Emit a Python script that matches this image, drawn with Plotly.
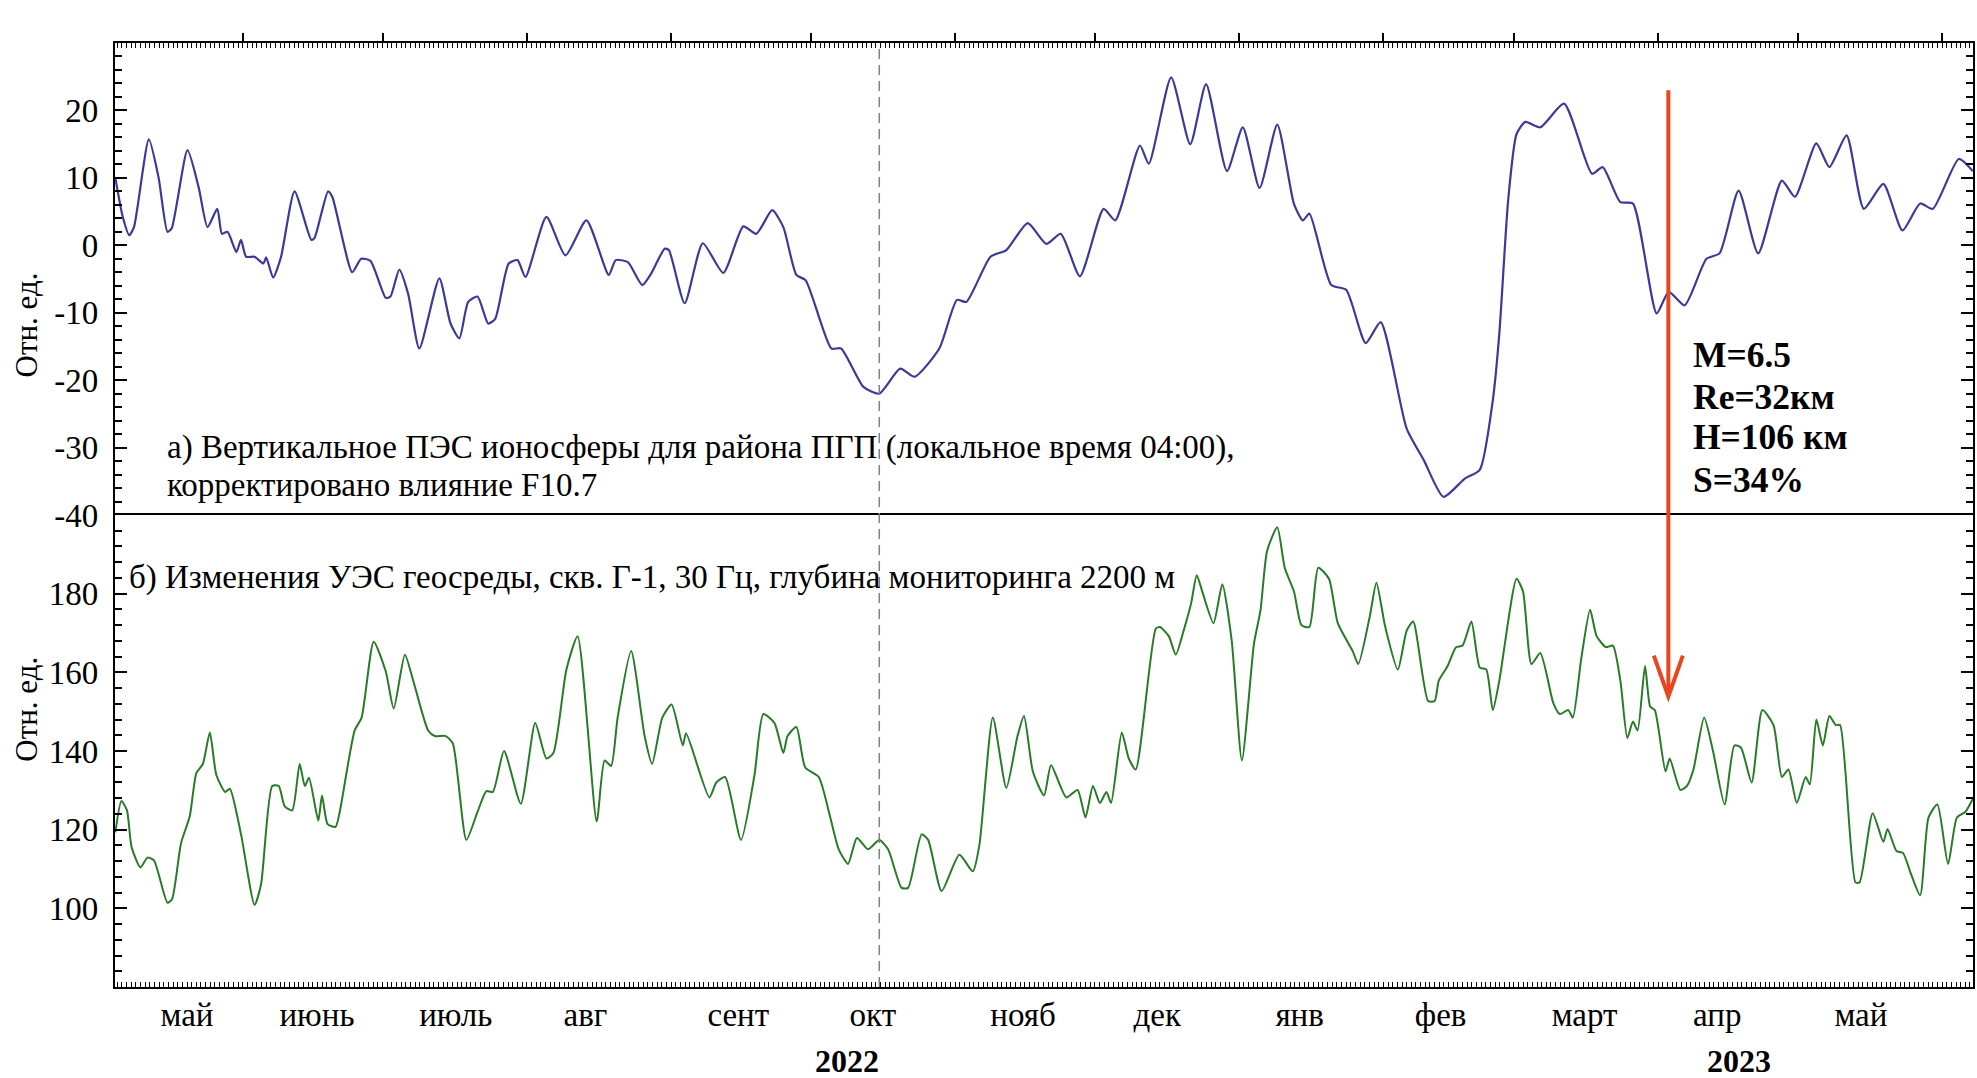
import pandas as pd
import plotly.graph_objects as go

# Days are counted from this reference date
BASE = pd.Timestamp("2022-06-01")

# a) vertical TEC of the ionosphere (relative units)
tec_days = [
    -27.4, -25.8, -24.4, -23.4, -20.2, -18.1, -16.2, -15.3, -11.9, -9.5,
    -7.6, -5.5, -4.5, -3.3, -1.4, -0.4, 0.7, 2.5, 4.4, 5.0,
    6.5, 8.2, 11.1, 14.7, 15.4, 18.3, 19.2, 23.5, 25.4, 27.4,
    30.7, 31.7, 33.6, 35.5, 37.9, 42.2, 44.6, 46.5, 48.4, 50.4,
    52.7, 54.2, 57.1, 59.0, 60.7, 65.2, 69.3, 73.8, 78.6, 80.1,
    82.7, 85.8, 87.7, 90.6, 91.5, 94.9, 98.8, 103.2, 107.5, 110.3,
    113.7, 116.1, 118.9, 120.9, 126.4, 128.5, 133.3, 136.7, 141.2, 144.3,
    149.6, 153.4, 155.4, 160.6, 164.0, 168.6, 172.6, 175.7, 179.8, 184.9,
    187.4, 192.7, 194.6, 199.4, 203.5, 206.9, 211.4, 214.8, 218.4, 222.2,
    225.8, 227.7, 229.1, 233.8, 237.0, 241.2, 244.4, 250.0, 253.7, 257.9,
    262.5, 265.7, 268.5, 269.9, 271.8, 273.6, 275.5, 278.7, 283.8, 289.8,
    292.1, 295.9, 298.6, 303.7, 306.3, 309.7, 314.4, 317.2, 321.3, 325.5,
    330.6, 333.4, 338.0, 340.8, 344.5, 348.2, 352.4, 356.5, 360.3, 363.0,
    368.6, 371.6,
]
tec_values = [
    10.0, 4.2, 1.5, 2.7, 15.7, 10.0, 2.0, 2.5, 14.1, 8.6,
    2.7, 5.4, 1.7, 2.0, -1.0, 0.8, -1.7, -1.7, -2.7, -1.8,
    -4.8, -1.7, 8.0, 0.8, 1.1, 8.0, 7.2, -4.0, -2.0, -2.3,
    -7.8, -7.6, -3.6, -7.2, -15.3, -4.9, -11.6, -13.8, -8.4, -7.6,
    -11.6, -10.9, -2.7, -2.2, -4.7, 4.2, -1.5, 3.7, -4.4, -2.2,
    -2.5, -5.9, -4.2, -0.5, -0.7, -8.6, 0.3, -4.1, 2.8, 1.7,
    5.2, 2.7, -4.4, -5.2, -15.3, -15.3, -21.0, -22.0, -18.3, -19.5,
    -15.3, -8.1, -8.4, -1.7, -0.7, 3.3, 0.2, 1.7, -4.6, 5.4,
    3.7, 14.8, 12.1, 24.9, 15.0, 23.9, 11.0, 17.5, 8.5, 17.9,
    6.1, 3.7, 4.7, -5.9, -6.6, -14.5, -11.4, -27.2, -31.9, -37.3,
    -34.6, -33.3, -23.0, -13.1, 6.7, 16.5, 18.3, 17.5, 21.0, 10.6,
    11.6, 6.4, 6.2, -10.1, -6.9, -8.9, -2.0, -1.2, 8.1, -1.2,
    9.6, 7.2, 15.1, 11.6, 16.3, 5.4, 9.1, 2.2, 6.2, 5.4,
    12.8, 11.0,
]

# b) geoelectric resistivity changes, well G-1, 30 Hz (relative units)
res_days = [
    -27.4, -26.1, -24.9, -23.9, -22.0, -20.5, -19.1, -16.2, -15.2, -13.3,
    -11.4, -10.0, -8.6, -7.1, -5.7, -3.8, -2.8, -0.4, 2.5, 3.9,
    6.3, 7.7, 9.0, 10.6, 12.2, 13.3, 14.2, 16.2, 17.0, 18.2,
    19.9, 20.8, 24.0, 25.5, 28.1, 30.7, 32.4, 34.8, 36.7, 39.8,
    41.2, 43.6, 45.1, 48.0, 50.4, 52.3, 53.7, 56.1, 59.7, 62.8,
    65.2, 66.7, 69.5, 71.9, 76.0, 77.7, 79.1, 80.5, 83.4, 86.3,
    87.9, 90.1, 92.1, 94.5, 95.2, 100.2, 101.7, 103.6, 107.0, 109.9,
    111.8, 114.2, 116.1, 117.0, 118.9, 120.8, 123.7, 126.1, 128.0, 130.0,
    131.9, 134.3, 136.7, 138.6, 141.5, 142.9, 145.8, 147.2, 150.1, 153.9,
    156.8, 158.2, 161.1, 164.0, 166.4, 167.8, 169.7, 172.1, 173.6, 176.9,
    179.3, 181.0, 182.6, 184.1, 185.5, 186.5, 188.8, 190.3, 191.8, 196.1,
    197.0, 198.9, 200.4, 202.3, 203.7, 204.9, 206.1, 208.5, 210.4, 212.4,
    214.6, 217.2, 218.6, 220.0, 222.2, 223.8, 225.8, 227.4, 229.1, 231.0,
    233.3, 235.2, 238.4, 239.6, 242.1, 243.5, 245.4, 248.1, 250.0, 251.4,
    254.6, 256.0, 256.9, 258.8, 260.6, 262.0, 263.9, 265.7, 267.1, 268.5,
    269.9, 273.6, 275.0, 276.8, 278.7, 281.5, 282.9, 284.7, 285.7, 287.5,
    289.4, 290.8, 292.8, 294.3, 295.9, 297.4, 298.6, 299.6, 301.2, 302.3,
    303.3, 305.6, 306.5, 308.8, 310.2, 311.6, 313.9, 315.8, 318.3, 320.4,
    321.8, 324.1, 326.4, 328.8, 330.6, 332.0, 333.8, 335.7, 336.6, 338.0,
    339.4, 340.8, 342.2, 343.1, 346.4, 347.3, 350.1, 352.4, 353.3, 355.2,
    356.6, 358.4, 360.3, 362.1, 364.0, 366.3, 368.2, 370.0, 371.6,
]
res_values = [
    119.3, 127.3, 124.9, 115.5, 110.4, 112.9, 112.2, 101.4, 102.4, 116.5,
    123.5, 134.4, 136.7, 144.7, 133.9, 129.6, 130.4, 118.8, 100.9, 106.1,
    131.1, 131.1, 125.9, 124.9, 136.7, 131.1, 133.2, 122.3, 128.7, 121.4,
    120.7, 124.5, 145.2, 148.5, 167.8, 160.2, 150.8, 164.5, 157.4, 145.2,
    143.8, 143.8, 141.9, 117.4, 124.5, 129.8, 129.6, 140.0, 126.6, 147.1,
    138.1, 139.5, 160.7, 169.2, 122.1, 137.6, 136.2, 148.5, 165.4, 143.8,
    136.7, 148.5, 151.8, 141.4, 144.5, 128.2, 132.0, 133.4, 117.4, 133.9,
    149.4, 147.1, 139.5, 143.8, 146.1, 135.8, 133.4, 123.5, 115.0, 111.3,
    117.9, 115.0, 117.4, 115.0, 105.2, 105.2, 118.8, 117.4, 104.4, 113.6,
    109.4, 116.0, 148.5, 130.6, 143.8, 148.9, 134.8, 128.7, 136.4, 128.2,
    130.1, 123.1, 131.1, 126.8, 129.6, 126.8, 144.7, 138.1, 135.3, 171.1,
    171.5, 169.2, 164.5, 171.5, 177.6, 184.7, 180.5, 172.5, 182.4, 168.2,
    137.6, 167.3, 175.8, 190.8, 196.9, 186.6, 180.5, 172.0, 171.5, 186.6,
    183.8, 172.5, 165.4, 162.1, 174.4, 182.8, 171.5, 160.7, 170.6, 172.9,
    152.7, 152.7, 157.9, 161.6, 166.4, 166.8, 172.9, 161.2, 160.7, 150.4,
    157.9, 183.8, 180.5, 162.1, 164.9, 152.2, 149.4, 150.4, 148.5, 163.5,
    175.9, 169.2, 166.4, 166.8, 157.9, 143.3, 147.5, 145.2, 161.6, 151.3,
    150.4, 134.8, 138.1, 130.1, 131.1, 135.3, 148.5, 140.0, 126.4, 141.4,
    140.9, 132.0, 150.4, 146.6, 133.4, 135.3, 126.8, 133.4, 131.5, 148.0,
    141.4, 148.9, 146.6, 146.6, 106.6, 106.6, 124.2, 116.9, 120.2, 114.6,
    114.1, 108.5, 103.3, 123.1, 126.4, 111.3, 123.1, 124.5, 127.8,
]

# Y tick values and their labels (plain hyphen for negatives)
tec_ticks = [-40, -30, -20, -10, 0, 10, 20]
tec_tick_text = ["-40", "-30", "-20", "-10", "0", "10", "20"]
res_ticks = [100, 120, 140, 160, 180]
res_tick_text = ["100", "120", "140", "160", "180"]

# Month labels on the time axis and where they sit
month_names = ["май", "июнь", "июль", "авг", "сент", "окт", "нояб",
               "дек", "янв", "фев", "март", "апр", "май"]
month_label_dates = ["2022-05-20", "2022-06-16 22:00", "2022-07-16 17:00",
                     "2022-08-13 14:00", "2022-09-15 10:00", "2022-10-14 08:00",
                     "2022-11-15 14:00", "2022-12-14 10:00", "2023-01-14",
                     "2023-02-13 07:00", "2023-03-16 05:00", "2023-04-13 17:00",
                     "2023-05-14 14:00"]
year_labels = ["2022", "2023"]
year_label_dates = ["2022-10-08 19:00", "2023-04-18 07:00"]

# Event markers
MARK_DATE = "2022-10-15 17:00"          # dashed reference line
QUAKE_DATE = "2023-04-03 05:00"         # earthquake
quake_params = ["M=6.5", "Re=32км", "H=106 км", "S=34%"]

X_RANGE = ["2022-05-04 12:40", "2023-06-07 15:40"]
SERIF = "Liberation Serif"
RED = "#e8461e"

tec_dates = [BASE + pd.Timedelta(days=d) for d in tec_days]
res_dates = [BASE + pd.Timedelta(days=d) for d in res_days]

fig = go.Figure()
fig.add_trace(go.Scatter(
    x=tec_dates, y=tec_values, mode="lines", xaxis="x", yaxis="y",
    line=dict(color="#3b3a98", width=2.2, shape="spline", smoothing=0.6),
    showlegend=False, hoverinfo="skip"))
fig.add_trace(go.Scatter(
    x=res_dates, y=res_values, mode="lines", xaxis="x2", yaxis="y2",
    line=dict(color="#297a29", width=2, shape="spline", smoothing=0.6),
    showlegend=False, hoverinfo="skip"))

DAY_MS = 86400000
base_x = dict(type="date", range=X_RANGE, showgrid=False, zeroline=False,
              fixedrange=True)
day_minor = dict(tickmode="linear", tick0="2022-05-01", dtick=DAY_MS,
                 ticks="inside", ticklen=5, tickwidth=1, tickcolor="black")
month_ticks = dict(tickmode="linear", tick0="2022-05-01", dtick="M1",
                   tickwidth=1.5, tickcolor="black", showticklabels=False)
tick_font = dict(family=SERIF, size=33, color="black")

fig.update_layout(
    width=1977, height=1078,
    margin=dict(l=115, r=2, t=43, b=91),
    paper_bgcolor="white", plot_bgcolor="white",
    font=dict(family=SERIF, size=33, color="black"),
    showlegend=False,
    # upper panel time axis (top frame)
    xaxis=dict(**base_x, **month_ticks, anchor="y", side="top",
               showline=True, linecolor="black", linewidth=2.2,
               ticks="outside", ticklen=8, minor=day_minor),
    xaxis5=dict(**base_x, **month_ticks, anchor="y", overlaying="x",
                side="top", ticks="inside", ticklen=12, showline=False),
    # lower panel time axis with month names
    xaxis2=dict(**base_x, anchor="y2", showline=True, linecolor="black",
                linewidth=2.2, mirror=True, tickmode="array",
                tickvals=month_label_dates, ticktext=month_names, ticks="",
                ticklabelstandoff=-3, tickfont=tick_font,
                minor=day_minor),
    xaxis3=dict(**base_x, **month_ticks, anchor="y2", overlaying="x2",
                ticks="outside", ticklen=8, showline=False),
    xaxis4=dict(**base_x, **month_ticks, anchor="y2", overlaying="x2",
                ticks="inside", ticklen=12, showline=False),
    yaxis=dict(domain=[0.5, 1], range=[-40, 30], anchor="x",
               tickmode="array", tickvals=tec_ticks, ticktext=tec_tick_text,
               tickfont=tick_font,
               ticks="inside", ticklen=12, tickwidth=1.5, tickcolor="black",
               showline=True, linecolor="black", linewidth=2.2, mirror="ticks",
               showgrid=False, zeroline=False, fixedrange=True,
               ticklabelstandoff=8,
               minor=dict(tickmode="linear", tick0=0, dtick=2,
                          ticks="inside", ticklen=7, tickwidth=1.5,
                          tickcolor="black")),
    yaxis2=dict(domain=[0, 0.5], range=[80, 200], anchor="x2",
                tickmode="array", tickvals=res_ticks, ticktext=res_tick_text,
                tickfont=tick_font,
                ticks="inside", ticklen=12, tickwidth=1.5, tickcolor="black",
                showline=True, linecolor="black", linewidth=2.2, mirror="ticks",
                showgrid=False, zeroline=False, fixedrange=True,
                ticklabelstandoff=8,
                minor=dict(tickmode="linear", tick0=80, dtick=4,
                           ticks="inside", ticklen=7, tickwidth=1.5,
                           tickcolor="black")),
)

# Dashed reference line through both panels
fig.add_shape(type="line", xref="x2", yref="paper", x0=MARK_DATE, x1=MARK_DATE,
              y0=0, y1=1, line=dict(color="#7f7f7f", width=1.5, dash="10px,6px"))

# Earthquake arrow: shaft plus open head
fig.add_shape(type="line", xref="x2", yref="paper", x0=QUAKE_DATE, x1=QUAKE_DATE,
              y0=0.9499, y1=0.310, line=dict(color=RED, width=4))
fig.add_shape(type="path", xref="x2", yref="paper", xsizemode="pixel",
              xanchor=QUAKE_DATE, path="M -14.5,0.351 L 0,0.3077 L 14.5,0.351",
              line=dict(color=RED, width=4))

annotations = []
# Panel captions
annotations.append(dict(
    text="а) Вертикальное ПЭС ионосферы для района ПГП (локальное время 04:00),",
    xref="paper", yref="paper", x=0.0269, y=0.5718, xanchor="left",
    yanchor="middle", showarrow=False, font=dict(family=SERIF, size=33)))
annotations.append(dict(
    text="корректировано влияние F10.7",
    xref="paper", yref="paper", x=0.0269, y=0.5316, xanchor="left",
    yanchor="middle", showarrow=False, font=dict(family=SERIF, size=33)))
annotations.append(dict(
    text="б) Изменения УЭС геосреды, скв. Г-1, 30 Гц, глубина мониторинга 2200 м",
    xref="paper", yref="paper", x=0.00645, y=0.4342, xanchor="left",
    yanchor="middle", showarrow=False, font=dict(family=SERIF, size=33)))

# Earthquake parameters next to the arrow
for line_text, ypos in zip(quake_params, [0.6693, 0.6248, 0.5824, 0.5369]):
    annotations.append(dict(
        text=f"<b>{line_text}</b>", xref="x2", yref="paper", x=QUAKE_DATE,
        xshift=23, y=ypos, xanchor="left", yanchor="middle", showarrow=False,
        font=dict(family=SERIF, size=35.5)))

# Y axis titles
for ypos in [0.701, 0.294]:
    annotations.append(dict(
        text="Отн. ед.", xref="paper", yref="paper", x=-0.0478, y=ypos,
        xanchor="center", yanchor="middle", textangle=-90, showarrow=False,
        font=dict(family=SERIF, size=31)))

# Year labels under the month names
for label, date in zip(year_labels, year_label_dates):
    annotations.append(dict(
        text=f"<b>{label}</b>", xref="x2", yref="paper", x=date, y=-0.0785,
        xanchor="center", yanchor="middle", showarrow=False,
        font=dict(family=SERIF, size=32)))

fig.update_layout(annotations=annotations)

fig.write_html("out.html")
